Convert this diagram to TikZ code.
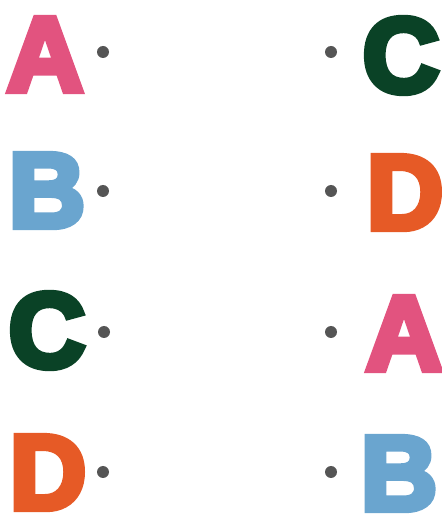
\documentclass[tikz,border=0pt]{standalone}
\usepackage{fontspec}
\newfontfamily\heavyfont[FakeBold=6]{Liberation Sans Bold}
\definecolor{lpink}{HTML}{E2537F}
\definecolor{lblue}{HTML}{6AA5CF}
\definecolor{lgreen}{HTML}{0A4226}
\definecolor{lorange}{HTML}{E65A26}
\definecolor{dotgray}{HTML}{555555}
\begin{document}
\begin{tikzpicture}[x=1pt,y=1pt,
  letter/.style={inner sep=0pt,anchor=base,font=\heavyfont\fontsize{106}{106}\selectfont},
  pt/.style={circle,fill=dotgray,inner sep=0pt,minimum size=12pt}]
\useasboundingbox (0,0) rectangle (442,515);
% left column
\node[letter,text=lpink]   (LA) at (45,515-91)  {A};
\node[letter,text=lblue]   (LB) at (47,515-227) {B};
\node[letter,text=lgreen]  (LC) at (47,515-367) {C};
\node[letter,text=lorange] (LD) at (48,515-509) {D};
% right column
\node[letter,text=lgreen]  (RC) at (401,515-92)  {C};
\node[letter,text=lorange] (RD) at (405,515-229) {D};
\node[letter,text=lpink]   (RA) at (404,515-370) {A};
\node[letter,text=lblue]   (RB) at (399,515-510) {B};
% dots
\node[pt] (dLA) at (103,515-52)  {};
\node[pt] (dLB) at (103,515-191) {};
\node[pt] (dLC) at (104,515-332) {};
\node[pt] (dLD) at (103,515-472) {};
\node[pt] (dRC) at (331,515-52)  {};
\node[pt] (dRD) at (331,515-191) {};
\node[pt] (dRA) at (331,515-332) {};
\node[pt] (dRB) at (331,515-472) {};
\end{tikzpicture}
\end{document}
